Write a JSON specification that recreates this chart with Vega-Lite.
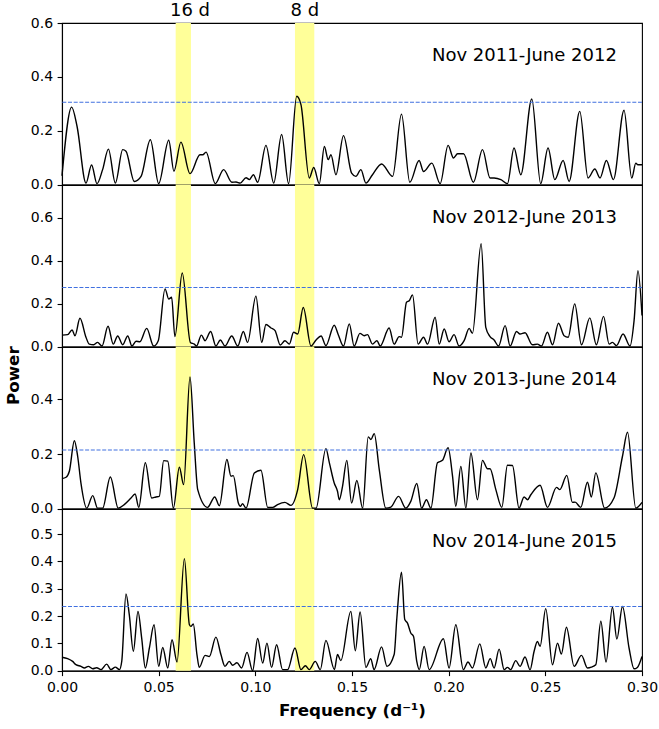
{
"$schema": "https://vega.github.io/schema/vega-lite/v6.json",
"padding": {"left": 4, "top": 1, "right": 5, "bottom": 5},
"spacing": 0,
"bounds": "flush",
"datasets": {
"bands": [{"f1": 0.0588, "f2": 0.0667}, {"f1": 0.1205, "f2": 0.1305}],
"fap": [{"s": 1, "level": 0.306}, {"s": 2, "level": 0.275}, {"s": 3, "level": 0.215}, {"s": 4, "level": 0.235}],
"labels": [{"s": 1, "x": 0.287, "y": 0.459, "text": "Nov 2011-June 2012"}, {"s": 2, "x": 0.287, "y": 0.576, "text": "Nov 2012-June 2013"}, {"s": 3, "x": 0.287, "y": 0.452, "text": "Nov 2013-June 2014"}, {"s": 4, "x": 0.287, "y": 0.453, "text": "Nov 2014-June 2015"}],
"periods": [{"x": 0.0662, "y": 0.627, "text": "16 d"}, {"x": 0.1256, "y": 0.627, "text": "8 d"}],
"curve": [
{"s":1,"f":0,"p":0.033},{"s":1,"f":0.005,"p":0.288},{"s":1,"f":0.0078,"p":0.216},{"s":1,"f":0.0124,"p":0.006},{"s":1,"f":0.0153,"p":0.073},{"s":1,"f":0.0181,"p":0.004},{"s":1,"f":0.021,"p":0.056},{"s":1,"f":0.024,"p":0.132},{"s":1,"f":0.0276,"p":0.006},{"s":1,"f":0.0314,"p":0.13},{"s":1,"f":0.0331,"p":0.124},{"s":1,"f":0.0374,"p":0.012},{"s":1,"f":0.0409,"p":0.031},{"s":1,"f":0.0457,"p":0.167},{"s":1,"f":0.05,"p":0.004},{"s":1,"f":0.0552,"p":0.165},{"s":1,"f":0.0579,"p":0.05},{"s":1,"f":0.0615,"p":0.158},{"s":1,"f":0.0662,"p":0.041},{"s":1,"f":0.0714,"p":0.111},{"s":1,"f":0.0728,"p":0.111},{"s":1,"f":0.0745,"p":0.121},{"s":1,"f":0.0793,"p":0.004},{"s":1,"f":0.0836,"p":0.056},{"s":1,"f":0.0879,"p":0.009},{"s":1,"f":0.09,"p":0.01},{"s":1,"f":0.0922,"p":0.006},{"s":1,"f":0.0952,"p":0.026},{"s":1,"f":0.0969,"p":0.019},{"s":1,"f":0.099,"p":0.037},{"s":1,"f":0.1012,"p":0.009},{"s":1,"f":0.1055,"p":0.146},{"s":1,"f":0.1095,"p":0.006},{"s":1,"f":0.1136,"p":0.186},{"s":1,"f":0.1172,"p":0.004},{"s":1,"f":0.1214,"p":0.328},{"s":1,"f":0.1236,"p":0.297},{"s":1,"f":0.1279,"p":0.025},{"s":1,"f":0.1302,"p":0.064},{"s":1,"f":0.1331,"p":0.004},{"s":1,"f":0.1357,"p":0.142},{"s":1,"f":0.1377,"p":0.093},{"s":1,"f":0.1391,"p":0.111},{"s":1,"f":0.1417,"p":0.037},{"s":1,"f":0.1456,"p":0.182},{"s":1,"f":0.1498,"p":0.043},{"s":1,"f":0.152,"p":0.031},{"s":1,"f":0.1546,"p":0.056},{"s":1,"f":0.1572,"p":0.006},{"s":1,"f":0.1606,"p":0.037},{"s":1,"f":0.1653,"p":0.077},{"s":1,"f":0.171,"p":0.031},{"s":1,"f":0.1756,"p":0.262},{"s":1,"f":0.1799,"p":0.009},{"s":1,"f":0.1847,"p":0.09},{"s":1,"f":0.187,"p":0.049},{"s":1,"f":0.1913,"p":0.08},{"s":1,"f":0.1956,"p":0.004},{"s":1,"f":0.1997,"p":0.146},{"s":1,"f":0.2025,"p":0.099},{"s":1,"f":0.2046,"p":0.115},{"s":1,"f":0.2077,"p":0.115},{"s":1,"f":0.2128,"p":0.009},{"s":1,"f":0.2175,"p":0.13},{"s":1,"f":0.2214,"p":0.025},{"s":1,"f":0.2235,"p":0.025},{"s":1,"f":0.227,"p":0.019},{"s":1,"f":0.2304,"p":0.004},{"s":1,"f":0.2338,"p":0.136},{"s":1,"f":0.2373,"p":0.037},{"s":1,"f":0.243,"p":0.318},{"s":1,"f":0.2476,"p":0.004},{"s":1,"f":0.2514,"p":0.136},{"s":1,"f":0.2549,"p":0.019},{"s":1,"f":0.2592,"p":0.09},{"s":1,"f":0.2623,"p":0.012},{"s":1,"f":0.2678,"p":0.272},{"s":1,"f":0.2721,"p":0.025},{"s":1,"f":0.2756,"p":0.058},{"s":1,"f":0.2783,"p":0.025},{"s":1,"f":0.2816,"p":0.09},{"s":1,"f":0.2852,"p":0.019},{"s":1,"f":0.2907,"p":0.276},{"s":1,"f":0.2947,"p":0.025},{"s":1,"f":0.2968,"p":0.08},{"s":1,"f":0.2979,"p":0.074},{"s":1,"f":0.3,"p":0.074},
{"s":2,"f":0,"p":0.054},{"s":2,"f":0.0029,"p":0.056},{"s":2,"f":0.0052,"p":0.078},{"s":2,"f":0.0067,"p":0.051},{"s":2,"f":0.0093,"p":0.132},{"s":2,"f":0.0124,"p":0.044},{"s":2,"f":0.0141,"p":0.012},{"s":2,"f":0.0164,"p":0.009},{"s":2,"f":0.0184,"p":0.02},{"s":2,"f":0.0207,"p":0.003},{"s":2,"f":0.0238,"p":0.095},{"s":2,"f":0.0265,"p":0.012},{"s":2,"f":0.0288,"p":0.05},{"s":2,"f":0.0314,"p":0.009},{"s":2,"f":0.034,"p":0.05},{"s":2,"f":0.0362,"p":0.003},{"s":2,"f":0.0383,"p":0.025},{"s":2,"f":0.0403,"p":0.023},{"s":2,"f":0.0438,"p":0.085},{"s":2,"f":0.0474,"p":0.003},{"s":2,"f":0.0498,"p":0.028},{"s":2,"f":0.0533,"p":0.269},{"s":2,"f":0.0552,"p":0.222},{"s":2,"f":0.0567,"p":0.23},{"s":2,"f":0.0584,"p":0.047},{"s":2,"f":0.0622,"p":0.343},{"s":2,"f":0.0664,"p":0.02},{"s":2,"f":0.0684,"p":0.012},{"s":2,"f":0.0696,"p":0.003},{"s":2,"f":0.0721,"p":0.054},{"s":2,"f":0.074,"p":0.028},{"s":2,"f":0.0769,"p":0.071},{"s":2,"f":0.0796,"p":0.003},{"s":2,"f":0.0819,"p":0.031},{"s":2,"f":0.0843,"p":0.003},{"s":2,"f":0.0878,"p":0.05},{"s":2,"f":0.0909,"p":0.003},{"s":2,"f":0.0938,"p":0.071},{"s":2,"f":0.096,"p":0.02},{"s":2,"f":0.1003,"p":0.235},{"s":2,"f":0.1033,"p":0.02},{"s":2,"f":0.1055,"p":0.103},{"s":2,"f":0.1081,"p":0.087},{"s":2,"f":0.1102,"p":0.075},{"s":2,"f":0.1129,"p":0.008},{"s":2,"f":0.1153,"p":0.028},{"s":2,"f":0.1176,"p":0.012},{"s":2,"f":0.1198,"p":0.067},{"s":2,"f":0.1219,"p":0.059},{"s":2,"f":0.1248,"p":0.182},{"s":2,"f":0.1288,"p":0.003},{"s":2,"f":0.1314,"p":0.031},{"s":2,"f":0.134,"p":0.05},{"s":2,"f":0.1365,"p":0.005},{"s":2,"f":0.1408,"p":0.1},{"s":2,"f":0.1429,"p":0.056},{"s":2,"f":0.1456,"p":0.003},{"s":2,"f":0.1486,"p":0.106},{"s":2,"f":0.1511,"p":0.003},{"s":2,"f":0.1541,"p":0.062},{"s":2,"f":0.1563,"p":0.051},{"s":2,"f":0.158,"p":0.056},{"s":2,"f":0.1606,"p":0.012},{"s":2,"f":0.1629,"p":0.028},{"s":2,"f":0.1646,"p":0.003},{"s":2,"f":0.1692,"p":0.087},{"s":2,"f":0.1718,"p":0.012},{"s":2,"f":0.1744,"p":0.047},{"s":2,"f":0.1756,"p":0.044},{"s":2,"f":0.1782,"p":0.207},{"s":2,"f":0.1796,"p":0.214},{"s":2,"f":0.1813,"p":0.241},{"s":2,"f":0.1842,"p":0.012},{"s":2,"f":0.187,"p":0.044},{"s":2,"f":0.1891,"p":0.012},{"s":2,"f":0.193,"p":0.137},{"s":2,"f":0.1951,"p":0.012},{"s":2,"f":0.1977,"p":0.082},{"s":2,"f":0.2002,"p":0.023},{"s":2,"f":0.2028,"p":0.056},{"s":2,"f":0.2054,"p":0.003},{"s":2,"f":0.208,"p":0.028},{"s":2,"f":0.2106,"p":0.085},{"s":2,"f":0.2123,"p":0.062},{"s":2,"f":0.2168,"p":0.479},{"s":2,"f":0.2192,"p":0.09},{"s":2,"f":0.2214,"p":0.047},{"s":2,"f":0.2235,"p":0.031},{"s":2,"f":0.2258,"p":0.003},{"s":2,"f":0.2292,"p":0.098},{"s":2,"f":0.2318,"p":0.003},{"s":2,"f":0.2351,"p":0.071},{"s":2,"f":0.2369,"p":0.059},{"s":2,"f":0.2395,"p":0.065},{"s":2,"f":0.2433,"p":0.009},{"s":2,"f":0.2459,"p":0.012},{"s":2,"f":0.248,"p":0.003},{"s":2,"f":0.2511,"p":0.067},{"s":2,"f":0.2537,"p":0.009},{"s":2,"f":0.2568,"p":0.109},{"s":2,"f":0.2597,"p":0.051},{"s":2,"f":0.2618,"p":0.044},{"s":2,"f":0.2652,"p":0.199},{"s":2,"f":0.2687,"p":0.009},{"s":2,"f":0.273,"p":0.134},{"s":2,"f":0.2764,"p":0.009},{"s":2,"f":0.2801,"p":0.141},{"s":2,"f":0.283,"p":0.012},{"s":2,"f":0.2847,"p":0.02},{"s":2,"f":0.2868,"p":0.005},{"s":2,"f":0.2902,"p":0.059},{"s":2,"f":0.2938,"p":0.003},{"s":2,"f":0.2959,"p":0.121},{"s":2,"f":0.2979,"p":0.354},{"s":2,"f":0.3,"p":0.145},
{"s":3,"f":0,"p":0.11},{"s":3,"f":0.0021,"p":0.115},{"s":3,"f":0.0038,"p":0.137},{"s":3,"f":0.0064,"p":0.249},{"s":3,"f":0.0081,"p":0.192},{"s":3,"f":0.0098,"p":0.094},{"s":3,"f":0.0128,"p":0.002},{"s":3,"f":0.0159,"p":0.048},{"s":3,"f":0.0184,"p":0.002},{"s":3,"f":0.021,"p":0.002},{"s":3,"f":0.025,"p":0.116},{"s":3,"f":0.0291,"p":0.002},{"s":3,"f":0.0322,"p":0.015},{"s":3,"f":0.0357,"p":0.039},{"s":3,"f":0.0378,"p":0.054},{"s":3,"f":0.0397,"p":0.005},{"s":3,"f":0.0431,"p":0.168},{"s":3,"f":0.0464,"p":0.039},{"s":3,"f":0.0486,"p":0.043},{"s":3,"f":0.0503,"p":0.045},{"s":3,"f":0.0526,"p":0.176},{"s":3,"f":0.0547,"p":0.174},{"s":3,"f":0.0576,"p":0.002},{"s":3,"f":0.0607,"p":0.152},{"s":3,"f":0.0629,"p":0.088},{"s":3,"f":0.0662,"p":0.482},{"s":3,"f":0.0684,"p":0.241},{"s":3,"f":0.0702,"p":0.07},{"s":3,"f":0.0753,"p":0.005},{"s":3,"f":0.079,"p":0.043},{"s":3,"f":0.0814,"p":0.011},{"s":3,"f":0.0853,"p":0.18},{"s":3,"f":0.0874,"p":0.119},{"s":3,"f":0.0886,"p":0.121},{"s":3,"f":0.0912,"p":0.021},{"s":3,"f":0.0922,"p":0.009},{"s":3,"f":0.0934,"p":0.018},{"s":3,"f":0.0952,"p":0.002},{"s":3,"f":0.0995,"p":0.131},{"s":3,"f":0.1029,"p":0.141},{"s":3,"f":0.1064,"p":0.005},{"s":3,"f":0.109,"p":0.005},{"s":3,"f":0.1115,"p":0.015},{"s":3,"f":0.1153,"p":0.023},{"s":3,"f":0.1184,"p":0.012},{"s":3,"f":0.1219,"p":0.07},{"s":3,"f":0.125,"p":0.198},{"s":3,"f":0.1296,"p":0.002},{"s":3,"f":0.1314,"p":0.002},{"s":3,"f":0.1365,"p":0.22},{"s":3,"f":0.1383,"p":0.168},{"s":3,"f":0.1408,"p":0.094},{"s":3,"f":0.1425,"p":0.064},{"s":3,"f":0.1434,"p":0.033},{"s":3,"f":0.1451,"p":0.082},{"s":3,"f":0.1473,"p":0.177},{"s":3,"f":0.1498,"p":0.021},{"s":3,"f":0.1525,"p":0.103},{"s":3,"f":0.1555,"p":0.002},{"s":3,"f":0.1584,"p":0.263},{"s":3,"f":0.1598,"p":0.253},{"s":3,"f":0.1615,"p":0.275},{"s":3,"f":0.1641,"p":0.143},{"s":3,"f":0.1675,"p":0.002},{"s":3,"f":0.1701,"p":0.006},{"s":3,"f":0.1741,"p":0.045},{"s":3,"f":0.1778,"p":0.002},{"s":3,"f":0.1804,"p":0.027},{"s":3,"f":0.1835,"p":0.092},{"s":3,"f":0.186,"p":0.002},{"s":3,"f":0.1885,"p":0.033},{"s":3,"f":0.1908,"p":0.002},{"s":3,"f":0.1942,"p":0.168},{"s":3,"f":0.1968,"p":0.177},{"s":3,"f":0.1997,"p":0.223},{"s":3,"f":0.202,"p":0.119},{"s":3,"f":0.2037,"p":0.009},{"s":3,"f":0.2063,"p":0.155},{"s":3,"f":0.2089,"p":0.002},{"s":3,"f":0.2115,"p":0.204},{"s":3,"f":0.2149,"p":0.033},{"s":3,"f":0.2175,"p":0.177},{"s":3,"f":0.2201,"p":0.146},{"s":3,"f":0.2214,"p":0.146},{"s":3,"f":0.2244,"p":0.07},{"s":3,"f":0.2275,"p":0.005},{"s":3,"f":0.2304,"p":0.159},{"s":3,"f":0.233,"p":0.158},{"s":3,"f":0.2364,"p":0.002},{"s":3,"f":0.239,"p":0.043},{"s":3,"f":0.2408,"p":0.033},{"s":3,"f":0.2425,"p":0.051},{"s":3,"f":0.2473,"p":0.086},{"s":3,"f":0.2511,"p":0.005},{"s":3,"f":0.2558,"p":0.078},{"s":3,"f":0.2575,"p":0.07},{"s":3,"f":0.2611,"p":0.122},{"s":3,"f":0.264,"p":0.023},{"s":3,"f":0.2654,"p":0.024},{"s":3,"f":0.2683,"p":0.005},{"s":3,"f":0.2718,"p":0.097},{"s":3,"f":0.2738,"p":0.043},{"s":3,"f":0.2761,"p":0.131},{"s":3,"f":0.2807,"p":0.002},{"s":3,"f":0.2855,"p":0.039},{"s":3,"f":0.2899,"p":0.192},{"s":3,"f":0.2925,"p":0.28},{"s":3,"f":0.2968,"p":0.002},{"s":3,"f":0.3,"p":0.023},
{"s":4,"f":0,"p":0.049},{"s":4,"f":0.0029,"p":0.044},{"s":4,"f":0.0055,"p":0.034},{"s":4,"f":0.0072,"p":0.022},{"s":4,"f":0.0098,"p":0.016},{"s":4,"f":0.0116,"p":0.01},{"s":4,"f":0.0136,"p":0.016},{"s":4,"f":0.0159,"p":0.007},{"s":4,"f":0.0179,"p":0.011},{"s":4,"f":0.0202,"p":0.004},{"s":4,"f":0.0231,"p":0.024},{"s":4,"f":0.0253,"p":0.004},{"s":4,"f":0.0276,"p":0.013},{"s":4,"f":0.0297,"p":0.004},{"s":4,"f":0.0309,"p":0.034},{"s":4,"f":0.0331,"p":0.281},{"s":4,"f":0.0348,"p":0.205},{"s":4,"f":0.0369,"p":0.071},{"s":4,"f":0.0393,"p":0.217},{"s":4,"f":0.0412,"p":0.12},{"s":4,"f":0.0431,"p":0.01},{"s":4,"f":0.0452,"p":0.083},{"s":4,"f":0.0476,"p":0.168},{"s":4,"f":0.05,"p":0.016},{"s":4,"f":0.0521,"p":0.085},{"s":4,"f":0.0547,"p":0.01},{"s":4,"f":0.0569,"p":0.113},{"s":4,"f":0.0595,"p":0.032},{"s":4,"f":0.0633,"p":0.41},{"s":4,"f":0.0659,"p":0.168},{"s":4,"f":0.0667,"p":0.162},{"s":4,"f":0.0679,"p":0.171},{"s":4,"f":0.0698,"p":0.059},{"s":4,"f":0.071,"p":0.012},{"s":4,"f":0.074,"p":0.056},{"s":4,"f":0.0762,"p":0.052},{"s":4,"f":0.0796,"p":0.123},{"s":4,"f":0.0822,"p":0.059},{"s":4,"f":0.0843,"p":0.016},{"s":4,"f":0.0865,"p":0.034},{"s":4,"f":0.0883,"p":0.02},{"s":4,"f":0.0905,"p":0.029},{"s":4,"f":0.0929,"p":0.01},{"s":4,"f":0.0957,"p":0.067},{"s":4,"f":0.0986,"p":0.0},{"s":4,"f":0.1012,"p":0.118},{"s":4,"f":0.1038,"p":0.028},{"s":4,"f":0.106,"p":0.101},{"s":4,"f":0.1084,"p":0.012},{"s":4,"f":0.111,"p":0.095},{"s":4,"f":0.1141,"p":0.004},{"s":4,"f":0.1167,"p":0.004},{"s":4,"f":0.1205,"p":0.083},{"s":4,"f":0.1236,"p":0.004},{"s":4,"f":0.1259,"p":0.018},{"s":4,"f":0.1279,"p":0.004},{"s":4,"f":0.131,"p":0.034},{"s":4,"f":0.1336,"p":0.004},{"s":4,"f":0.1365,"p":0.111},{"s":4,"f":0.1409,"p":0.004},{"s":4,"f":0.1425,"p":0.059},{"s":4,"f":0.1442,"p":0.037},{"s":4,"f":0.1494,"p":0.217},{"s":4,"f":0.1517,"p":0.073},{"s":4,"f":0.1542,"p":0.215},{"s":4,"f":0.1572,"p":0.012},{"s":4,"f":0.1597,"p":0.044},{"s":4,"f":0.1614,"p":0.004},{"s":4,"f":0.1653,"p":0.087},{"s":4,"f":0.1681,"p":0.016},{"s":4,"f":0.1718,"p":0.059},{"s":4,"f":0.1732,"p":0.193},{"s":4,"f":0.1756,"p":0.36},{"s":4,"f":0.1773,"p":0.187},{"s":4,"f":0.1787,"p":0.174},{"s":4,"f":0.1804,"p":0.138},{"s":4,"f":0.1818,"p":0.126},{"s":4,"f":0.1835,"p":0.034},{"s":4,"f":0.1848,"p":0.004},{"s":4,"f":0.1873,"p":0.089},{"s":4,"f":0.1899,"p":0.004},{"s":4,"f":0.1973,"p":0.117},{"s":4,"f":0.2002,"p":0.01},{"s":4,"f":0.2037,"p":0.168},{"s":4,"f":0.2076,"p":0.004},{"s":4,"f":0.21,"p":0.032},{"s":4,"f":0.2123,"p":0.01},{"s":4,"f":0.2161,"p":0.098},{"s":4,"f":0.2192,"p":0.01},{"s":4,"f":0.2215,"p":0.044},{"s":4,"f":0.2235,"p":0.01},{"s":4,"f":0.2261,"p":0.079},{"s":4,"f":0.2287,"p":0.004},{"s":4,"f":0.2304,"p":0.012},{"s":4,"f":0.2321,"p":0.004},{"s":4,"f":0.2347,"p":0.037},{"s":4,"f":0.2369,"p":0.016},{"s":4,"f":0.2395,"p":0.05},{"s":4,"f":0.2421,"p":0.004},{"s":4,"f":0.2442,"p":0.071},{"s":4,"f":0.2459,"p":0.107},{"s":4,"f":0.2473,"p":0.089},{"s":4,"f":0.2502,"p":0.227},{"s":4,"f":0.2537,"p":0.022},{"s":4,"f":0.2563,"p":0.101},{"s":4,"f":0.2583,"p":0.061},{"s":4,"f":0.2609,"p":0.159},{"s":4,"f":0.2649,"p":0.016},{"s":4,"f":0.2687,"p":0.056},{"s":4,"f":0.2718,"p":0.01},{"s":4,"f":0.2738,"p":0.013},{"s":4,"f":0.2761,"p":0.022},{"s":4,"f":0.2787,"p":0.181},{"s":4,"f":0.2814,"p":0.032},{"s":4,"f":0.2847,"p":0.232},{"s":4,"f":0.287,"p":0.116},{"s":4,"f":0.2899,"p":0.235},{"s":4,"f":0.2933,"p":0.083},{"s":4,"f":0.2959,"p":0.007},{"s":4,"f":0.2976,"p":0.012},{"s":4,"f":0.3,"p":0.052}
]
},
"vconcat": [
{
"width": 580, "height": 161.7,
"resolve": {"axis": {"x": "independent"}},
"layer": [
{"data": {"name": "bands"}, "mark": {"type": "rect", "fill": "#ffff99"},
 "encoding": {"x": {"field": "f1", "type": "quantitative", "scale": {"domain": [0, 0.3], "nice": false}, "axis": {"orient": "top", "labels": false, "ticks": false, "title": null}}, "x2": {"field": "f2"}}},
{"data": {"name": "curve"}, "transform": [{"filter": "datum.s == 1"}], "mark": {"type": "line", "color": "#000", "strokeWidth": 1.4, "interpolate": "monotone"},
 "encoding": {"x": {"field": "f", "type": "quantitative", "scale": {"domain": [0, 0.3], "nice": false}, "axis": {"labels": false, "ticks": false, "title": null}},
  "y": {"field": "p", "type": "quantitative", "scale": {"domain": [0, 0.6], "nice": false}, "axis": {"values": [0, 0.2, 0.4, 0.6], "format": ".1f", "title": null}}}},
{"data": {"name": "fap"}, "transform": [{"filter": "datum.s == 1"}], "mark": {"type": "rule", "color": "#4070e0", "strokeWidth": 1.1, "strokeDash": [4, 1.7]},
 "encoding": {"y": {"field": "level", "type": "quantitative", "scale": {"domain": [0, 0.6], "nice": false}, "axis": {"values": [0, 0.2, 0.4, 0.6], "format": ".1f", "title": null}}}},
{"data": {"name": "labels"}, "transform": [{"filter": "datum.s == 1"}], "mark": {"type": "text", "align": "right", "baseline": "alphabetic", "fontSize": 18, "color": "#000"},
 "encoding": {"x": {"field": "x", "type": "quantitative", "scale": {"domain": [0, 0.3], "nice": false}, "axis": null}, "y": {"field": "y", "type": "quantitative", "scale": {"domain": [0, 0.6], "nice": false}, "axis": {"values": [0, 0.2, 0.4, 0.6], "format": ".1f", "title": null}}, "text": {"field": "text"}}},
{"data": {"name": "periods"}, "mark": {"type": "text", "align": "center", "baseline": "alphabetic", "fontSize": 18, "color": "#000"},
 "encoding": {"x": {"field": "x", "type": "quantitative", "scale": {"domain": [0, 0.3], "nice": false}, "axis": null}, "y": {"field": "y", "type": "quantitative", "scale": {"domain": [0, 0.6], "nice": false}, "axis": {"values": [0, 0.2, 0.4, 0.6], "format": ".1f", "title": null}}, "text": {"field": "text"}}}
]
},
{
"width": 580, "height": 161.7,
"layer": [
{"data": {"name": "bands"}, "mark": {"type": "rect", "fill": "#ffff99"},
 "encoding": {"x": {"field": "f1", "type": "quantitative", "scale": {"domain": [0, 0.3], "nice": false}, "axis": {"labels": false, "ticks": false, "title": null}}, "x2": {"field": "f2"}}},
{"data": {"name": "curve"}, "transform": [{"filter": "datum.s == 2"}], "mark": {"type": "line", "color": "#000", "strokeWidth": 1.4, "interpolate": "monotone"},
 "encoding": {"x": {"field": "f", "type": "quantitative", "scale": {"domain": [0, 0.3], "nice": false}, "axis": {"labels": false, "ticks": false, "title": null}},
  "y": {"field": "p", "type": "quantitative", "scale": {"domain": [0, 0.752], "nice": false}, "axis": {"values": [0, 0.2, 0.4, 0.6], "format": ".1f", "title": null}}}},
{"data": {"name": "fap"}, "transform": [{"filter": "datum.s == 2"}], "mark": {"type": "rule", "color": "#4070e0", "strokeWidth": 1.1, "strokeDash": [4, 1.7]},
 "encoding": {"y": {"field": "level", "type": "quantitative", "scale": {"domain": [0, 0.752], "nice": false}, "axis": {"values": [0, 0.2, 0.4, 0.6], "format": ".1f", "title": null}}}},
{"data": {"name": "labels"}, "transform": [{"filter": "datum.s == 2"}], "mark": {"type": "text", "align": "right", "baseline": "alphabetic", "fontSize": 18, "color": "#000"},
 "encoding": {"x": {"field": "x", "type": "quantitative", "scale": {"domain": [0, 0.3], "nice": false}, "axis": {"labels": false, "ticks": false, "title": null}}, "y": {"field": "y", "type": "quantitative", "scale": {"domain": [0, 0.752], "nice": false}, "axis": {"values": [0, 0.2, 0.4, 0.6], "format": ".1f", "title": null}}, "text": {"field": "text"}}}
]
},
{
"width": 580, "height": 161.7,
"layer": [
{"data": {"name": "bands"}, "mark": {"type": "rect", "fill": "#ffff99"},
 "encoding": {"x": {"field": "f1", "type": "quantitative", "scale": {"domain": [0, 0.3], "nice": false}, "axis": {"labels": false, "ticks": false, "title": null}}, "x2": {"field": "f2"}}},
{"data": {"name": "curve"}, "transform": [{"filter": "datum.s == 3"}], "mark": {"type": "line", "color": "#000", "strokeWidth": 1.4, "interpolate": "monotone"},
 "encoding": {"x": {"field": "f", "type": "quantitative", "scale": {"domain": [0, 0.3], "nice": false}, "axis": {"labels": false, "ticks": false, "title": null}},
  "y": {"field": "p", "type": "quantitative", "scale": {"domain": [0, 0.592], "nice": false}, "axis": {"values": [0, 0.2, 0.4], "format": ".1f", "title": "Power", "titleX": -43.7, "titleY": 28.2, "titleAngle": 270, "titleAlign": "center", "titleBaseline": "alphabetic"}}}},
{"data": {"name": "fap"}, "transform": [{"filter": "datum.s == 3"}], "mark": {"type": "rule", "color": "#4070e0", "strokeWidth": 1.1, "strokeDash": [4, 1.7]},
 "encoding": {"y": {"field": "level", "type": "quantitative", "scale": {"domain": [0, 0.592], "nice": false}, "axis": {"values": [0, 0.2, 0.4], "format": ".1f", "title": "Power", "titleX": -43.7, "titleY": 28.2, "titleAngle": 270, "titleAlign": "center", "titleBaseline": "alphabetic"}}}},
{"data": {"name": "labels"}, "transform": [{"filter": "datum.s == 3"}], "mark": {"type": "text", "align": "right", "baseline": "alphabetic", "fontSize": 18, "color": "#000"},
 "encoding": {"x": {"field": "x", "type": "quantitative", "scale": {"domain": [0, 0.3], "nice": false}, "axis": {"labels": false, "ticks": false, "title": null}}, "y": {"field": "y", "type": "quantitative", "scale": {"domain": [0, 0.592], "nice": false}, "axis": {"values": [0, 0.2, 0.4], "format": ".1f", "title": "Power", "titleX": -43.7, "titleY": 28.2, "titleAngle": 270, "titleAlign": "center", "titleBaseline": "alphabetic"}}, "text": {"field": "text"}}}
]
},
{
"width": 580, "height": 161.7,
"layer": [
{"data": {"name": "bands"}, "mark": {"type": "rect", "fill": "#ffff99"},
 "encoding": {"x": {"field": "f1", "type": "quantitative", "scale": {"domain": [0, 0.3], "nice": false}, "axis": {"values": [0, 0.05, 0.1, 0.15, 0.2, 0.25, 0.3], "format": ".2f", "title": "Frequency (d⁻¹)"}}, "x2": {"field": "f2"}}},
{"data": {"name": "curve"}, "transform": [{"filter": "datum.s == 4"}], "mark": {"type": "line", "color": "#000", "strokeWidth": 1.4, "interpolate": "monotone"},
 "encoding": {"x": {"field": "f", "type": "quantitative", "scale": {"domain": [0, 0.3], "nice": false}, "axis": {"values": [0, 0.05, 0.1, 0.15, 0.2, 0.25, 0.3], "format": ".2f", "title": "Frequency (d⁻¹)"}},
  "y": {"field": "p", "type": "quantitative", "scale": {"domain": [0, 0.5915], "nice": false}, "axis": {"values": [0, 0.1, 0.2, 0.3, 0.4, 0.5], "format": ".1f", "title": null}}}},
{"data": {"name": "fap"}, "transform": [{"filter": "datum.s == 4"}], "mark": {"type": "rule", "color": "#4070e0", "strokeWidth": 1.1, "strokeDash": [4, 1.7]},
 "encoding": {"y": {"field": "level", "type": "quantitative", "scale": {"domain": [0, 0.5915], "nice": false}, "axis": {"values": [0, 0.1, 0.2, 0.3, 0.4, 0.5], "format": ".1f", "title": null}}}},
{"data": {"name": "labels"}, "transform": [{"filter": "datum.s == 4"}], "mark": {"type": "text", "align": "right", "baseline": "alphabetic", "fontSize": 18, "color": "#000"},
 "encoding": {"x": {"field": "x", "type": "quantitative", "scale": {"domain": [0, 0.3], "nice": false}, "axis": {"values": [0, 0.05, 0.1, 0.15, 0.2, 0.25, 0.3], "format": ".2f", "title": "Frequency (d⁻¹)"}}, "y": {"field": "y", "type": "quantitative", "scale": {"domain": [0, 0.5915], "nice": false}, "axis": {"values": [0, 0.1, 0.2, 0.3, 0.4, 0.5], "format": ".1f", "title": null}}, "text": {"field": "text"}}}
]
}
],
"config": {
"font": "DejaVu Sans",
"view": {"stroke": "#000", "strokeWidth": 1.1},
"axis": {"grid": false, "domainColor": "#000", "domainWidth": 1.1, "tickColor": "#000", "tickWidth": 1.1, "tickSize": 4.9, "labelColor": "#000", "labelFont": "DejaVu Sans", "labelFontSize": 14, "labelPadding": 4.5, "titleFont": "DejaVu Sans", "titleFontSize": 16.7, "titleFontWeight": "bold", "titleColor": "#000", "zindex": 1, "labelFlush": false, "labelOverlap": false, "titlePadding": 8}
}
}
